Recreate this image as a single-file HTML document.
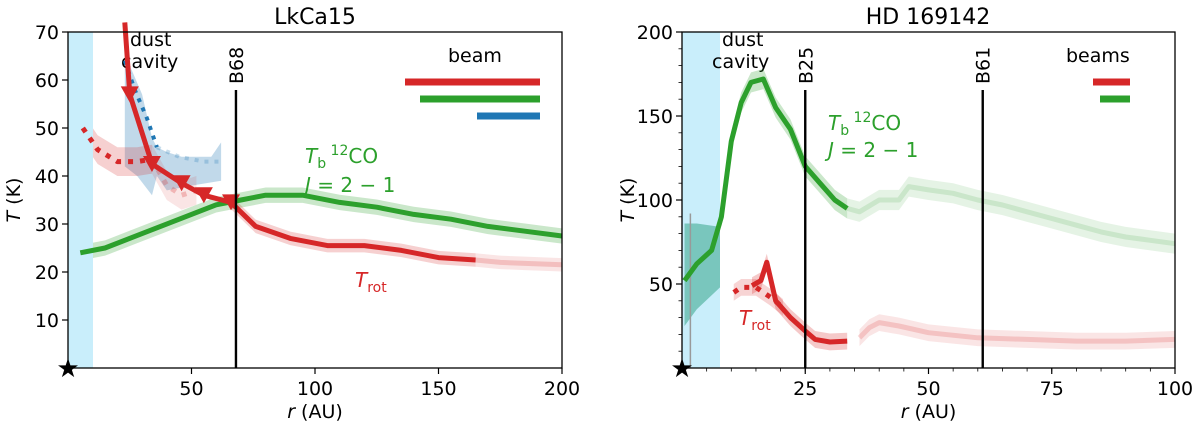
<!DOCTYPE html>
<html><head><meta charset="utf-8"><style>
body{margin:0;background:#fff;}
svg{display:block;font-family:"DejaVu Sans","Liberation Sans",sans-serif;}
</style></head><body>
<svg id="c" width="1200" height="425" viewBox="0 0 1200 425"></svg>
<script>
// ---- Left panel data (LkCa15) ----
const L_tb_r=[5,15,30,45,60,70,80,95,110,125,140,155,170,185,200];
const L_tb_T=[24,25,28,31,34,35,36,36,34.5,33.5,32,31,29.5,28.5,27.5];
const L_rot_r=[23,25,34,46,55,66,76,90,105,120,135,150,165];
const L_rot_T=[72,57,42.5,38.5,36,34.5,29.5,27,25.5,25.5,24.5,23,22.5];
const L_rotF_r=[165,175,185,200];
const L_rotF_T=[22.5,22,21.8,21.5];
const L_dot_r=[6,12,20,28,34];
const L_dot_T=[50,45.5,43,43,43.5];
const L_dotF_r=[34,40,46,52];
const L_dotF_T=[43.5,38,36,37];
const L_blue_r=[23,27,32,36];
const L_blue_T=[64,58,52,46];
const L_blueF_r=[36,45,55,62];
const L_blueF_T=[46,44,43,43];
const L_blueBand_r=[23,25,30,34,36,40,46,52,58,62,62,50,40,36,34,28,23];
const L_blueBand_T=[63,63,57,48,46,45,44,44,44,47,39,38,37,40,36,40,42];
const L_tri_r=[25,34,46,55,66];
const L_tri_T=[57,42.5,38.5,36,34.5];
const L_xticks=[50,100,150,200];
const L_yticks=[10,20,30,40,50,60,70];
// ---- Right panel data (HD 169142) ----
const R_tb_r=[0.5,3,6,8,10,12,14,16.5,19,22,25,28,31,33.5];
const R_tb_T=[52,62,70,90,135,158,170,172,155,142,120,110,100,95];
const R_tbF_r=[33.5,36,40,44,46,50,55,60,65,70,75,80,85,90,95,100];
const R_tbF_T=[95,93,100,100,108,106,104,100,97,93,89,85,81,78,76,74];
const R_cavBand_r=[0.5,3,7.7,7.7,3,0.5];
const R_cavBand_T=[86,86,84,48,35,25];
const R_rot_r=[14.2,16,17.2,19,22,25,27,30,33.5];
const R_rot_T=[49,52,63,40,30,22,17,15.5,16];
const R_rotF_r=[36,38,40,44,50,60,70,80,90,100];
const R_rotF_T=[18,24,27,25,21,18,17,16,16,17];
const R_dot_r=[10.5,12,15,18,20.5];
const R_dot_T=[45,48,48,42,36];
const R_xticks=[25,50,75,100];
const R_yticks=[50,100,150,200];

const NS="http://www.w3.org/2000/svg";
const svg=document.getElementById('c');
function el(tag,attrs,parent,txt){const e=document.createElementNS(NS,tag);for(const k in attrs)e.setAttribute(k,attrs[k]);if(txt!==undefined)e.textContent=txt;(parent||svg).appendChild(e);return e;}
function mk(x0,x1,y0,y1,xmax,ymax){return{x:r=>x0+(x1-x0)*r/xmax,y:t=>y1-(y1-y0)*t/ymax};}
const L=mk(68,562,32,368,200,70), R=mk(682,1175,32,368,100,200);
function pts(ax,rs,ts){return rs.map((r,i)=>ax.x(r).toFixed(1)+','+ax.y(ts[i]).toFixed(1)).join(' ');}
function line(ax,rs,ts,color,w,op,dash,name){
  const p=el('polyline',{points:pts(ax,rs,ts),fill:'none',stroke:color,'stroke-width':w,'stroke-opacity':op,'stroke-linejoin':'round'});
  if(dash)p.setAttribute('stroke-dasharray',dash);
  
  
  return p;
}
function area(ax,rs,ts,color,op,name){
  const p=el('polygon',{points:pts(ax,rs,ts),fill:color,'fill-opacity':op});
  
  
}
function band(ax,rs,ts,d,color,op,name){
  const up=rs.map((r,i)=>ax.x(r)+','+ax.y(ts[i]+d));
  const dn=rs.map((r,i)=>ax.x(r)+','+ax.y(ts[i]-d)).reverse();
  const p=el('polygon',{points:up.concat(dn).join(' '),fill:color,'fill-opacity':op});
  
  
}
function axes(ax,x0,x1,y0,y1,xt,yt,title,tx,minorX,minorY,xmax,ymax){
  const g=el('g',{});
  
  
  el('rect',{x:x0,y:y0,width:x1-x0,height:y1-y0,fill:'none',stroke:'#000','stroke-width':1.3},g);
  xt.forEach(v=>{const x=ax.x(v);el('line',{x1:x,x2:x,y1:y1,y2:y1+6,stroke:'#000','stroke-width':1.2},g);
    const t=el('text',{x:x,y:y1+27,'font-size':19,'text-anchor':'middle'},g,v);
    });
  yt.forEach(v=>{const y=ax.y(v);el('line',{x1:x0-6,x2:x0,y1:y,y2:y,stroke:'#000','stroke-width':1.2},g);
    const t=el('text',{x:x0-9,y:y+7,'font-size':19,'text-anchor':'end'},g,v);
    });
  if(minorX)for(let v=minorX;v<xmax;v+=minorX){const x=ax.x(v);el('line',{x1:x,x2:x,y1:y1,y2:y1+3.5,stroke:'#000','stroke-width':0.8},g);}
  if(minorY)for(let v=minorY;v<ymax;v+=minorY){const y=ax.y(v);el('line',{x1:x0-3.5,x2:x0,y1:y,y2:y,stroke:'#000','stroke-width':0.8},g);}
  const tt=el('text',{x:tx,y:24,'font-size':22,'text-anchor':'middle'},svg,title);
  
  const xl=el('text',{x:(x0+x1)/2,y:418,'font-size':19,'text-anchor':'middle'},svg);
  xl.innerHTML='<tspan font-style="italic">r</tspan> (AU)';
  
  const yl=el('text',{transform:`translate(${x0-48},${(y0+y1)/2}) rotate(-90)`,'font-size':19,'text-anchor':'middle'},svg);
  yl.innerHTML='<tspan font-style="italic">T</tspan> (K)';
  
  const s=el('text',{x:x0,y:y1+9,'font-size':26,'text-anchor':'middle'},svg,'★');
  
}
function vline(ax,r,label){
  const x=ax.x(r);
  const l=el('line',{x1:x,x2:x,y1:90,y2:368,stroke:'#000','stroke-width':2.4});
  
  const t=el('text',{transform:`translate(${x+7},${84}) rotate(-90)`,'font-size':19},svg,label);
  
}
function cavity(x0,x1,tx,tx2){
  const r=el('rect',{x:x0,y:32,width:x1-x0,height:336,fill:'#c9eefb'});
  
  const t=el('text',{x:tx,y:46,'font-size':19},svg,'dust');
  
  el('text',{x:tx2,y:68,'font-size':19},svg,'cavity');
}
const GREEN='#2ca02c',RED='#d62728',BLUE='#1f77b4';
// LEFT
area(L,L_blueBand_r,L_blueBand_T,BLUE,0.28,'blue-uncertainty-band');
band(L,L_dot_r,L_dot_T,3,RED,0.22,'dotted-trot-band');
band(L,L_dotF_r,L_dotF_T,3,RED,0.12,'dotted-trot-faded-band');
band(L,L_tb_r,L_tb_T,1.6,GREEN,0.25,'tb-band');
band(L,L_rot_r.slice(5),L_rot_T.slice(5),1.4,RED,0.22,'trot-band');
band(L,L_rotF_r,L_rotF_T,1.4,RED,0.12,'trot-faded-band');
cavity(68,93,130,121);
line(L,L_tb_r,L_tb_T,GREEN,5,1,null,'tb-12co-line');
line(L,L_dot_r,L_dot_T,RED,5,1,'5,7','trot-dotted-line');
line(L,L_dotF_r,L_dotF_T,RED,5,0.25,'5,7','trot-dotted-faded-line');
line(L,L_blue_r,L_blue_T,BLUE,4,1,'4,6','blue-dotted-line');
line(L,L_blueF_r,L_blueF_T,BLUE,4,0.25,'4,6','blue-dotted-faded-line');
line(L,L_rot_r,L_rot_T,RED,5,1,null,'trot-line');
line(L,L_rotF_r,L_rotF_T,RED,5,0.2,null,'trot-faded-line');
L_tri_r.forEach((r,i)=>{const x=L.x(r),y=L.y(L_tri_T[i]);
  const p=el('polygon',{points:`${x-9},${y-8} ${x+9},${y-8} ${x},${y+8}`,fill:RED});
  });
vline(L,68,'B68');
axes(L,68,562,32,368,L_xticks,L_yticks,'LkCa15',315,null,null,200,70);
let t=el('text',{x:305,y:163,'font-size':20,fill:GREEN});t.innerHTML='<tspan font-style="italic">T</tspan><tspan font-size="14" dy="5">b</tspan><tspan dy="-13" font-size="14"> 12</tspan><tspan dy="8">CO</tspan>';

t=el('text',{x:305,y:192,'font-size':20,fill:GREEN});t.innerHTML='<tspan font-style="italic">J</tspan> = 2 − 1';
t=el('text',{x:355,y:287,'font-size':20,fill:RED});t.innerHTML='<tspan font-style="italic">T</tspan><tspan font-size="14" dy="5">rot</tspan>';

t=el('text',{x:448,y:62,'font-size':19},svg,'beam');
[[405,82,RED],[420,99,GREEN],[477,116,BLUE]].forEach(b=>{const l=el('line',{x1:b[0],x2:540,y1:b[1],y2:b[1],stroke:b[2],'stroke-width':7});});
// RIGHT
cavity(682,720,722,712);
area(R,R_cavBand_r,R_cavBand_T,'#2a9d7f',0.5,'tb-cavity-band');
band(R,R_tb_r.slice(3),R_tb_T.slice(3),6,GREEN,0.25,'tb-band');
band(R,R_tbF_r,R_tbF_T,6,GREEN,0.12,'tb-faded-band');
band(R,R_rot_r,R_rot_T,5,RED,0.25,'trot-band');
band(R,R_dot_r,R_dot_T,5,RED,0.2,'dotted-trot-band');
band(R,R_rotF_r,R_rotF_T,5,RED,0.12,'trot-faded-band');
let g=el('line',{x1:R.x(1.7),x2:R.x(1.7),y1:R.y(0),y2:R.y(92),stroke:'#999','stroke-width':1.5});

line(R,R_tb_r,R_tb_T,GREEN,5,1,null,'tb-12co-line');
line(R,R_tbF_r,R_tbF_T,GREEN,5,0.15,null,'tb-faded-line');
line(R,R_dot_r,R_dot_T,RED,5,1,'5,7','trot-dotted-line');
line(R,R_rot_r,R_rot_T,RED,5,1,null,'trot-line');
line(R,R_rotF_r,R_rotF_T,RED,5,0.18,null,'trot-faded-line');
vline(R,25,'B25');vline(R,61,'B61');
axes(R,682,1175,32,368,R_xticks,R_yticks,'HD 169142',928,5,10,100,200);
t=el('text',{x:828,y:130,'font-size':20,fill:GREEN});t.innerHTML='<tspan font-style="italic">T</tspan><tspan font-size="14" dy="5">b</tspan><tspan dy="-13" font-size="14"> 12</tspan><tspan dy="8">CO</tspan>';

t=el('text',{x:828,y:157,'font-size':20,fill:GREEN});t.innerHTML='<tspan font-style="italic">J</tspan> = 2 − 1';
t=el('text',{x:739,y:325,'font-size':20,fill:RED});t.innerHTML='<tspan font-style="italic">T</tspan><tspan font-size="14" dy="5">rot</tspan>';

t=el('text',{x:1066,y:62,'font-size':19},svg,'beams');
[[1093,82,RED],[1100,99,GREEN]].forEach(b=>{const l=el('line',{x1:b[0],x2:1130,y1:b[1],y2:b[1],stroke:b[2],'stroke-width':7});});
</script>
</body></html>
